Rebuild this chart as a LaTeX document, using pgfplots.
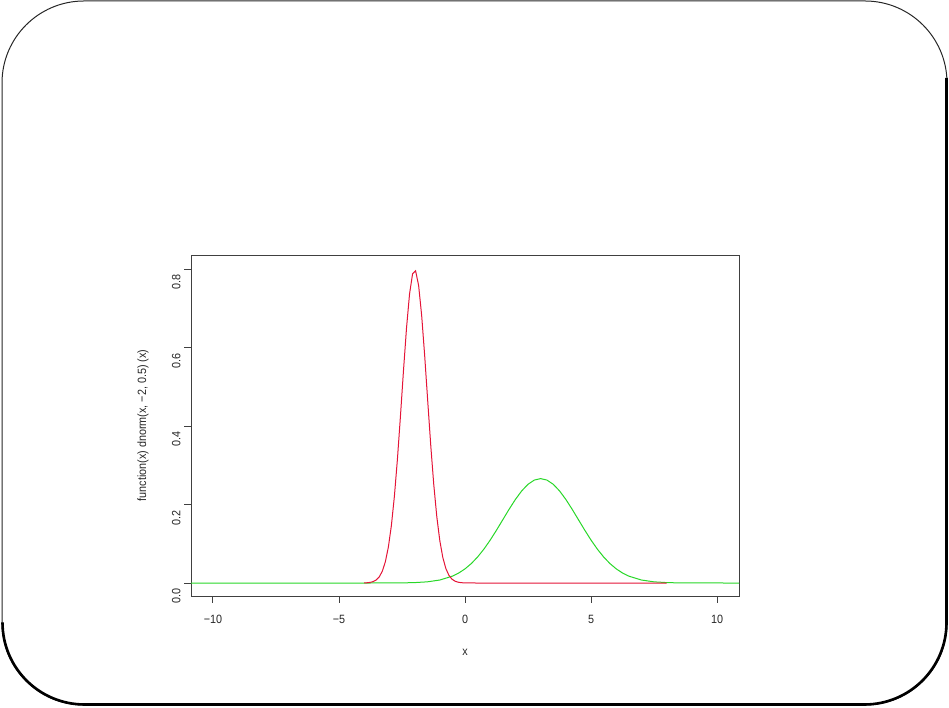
\documentclass[border=0pt]{standalone}
\usepackage{fontspec}
\setmainfont{Liberation Sans}[FakeStretch=0.9]
\usepackage{pgfplots}
\pgfplotsset{compat=1.18}
\definecolor{rgreen}{RGB}{40,215,40}
\definecolor{rred}{RGB}{228,20,55}
\begin{document}
\begin{tikzpicture}
\path[use as bounding box] (0pt,0pt) rectangle (949pt,708pt);
\draw[black!85, line width=1pt, rounded corners=82pt] (2pt,3pt) rectangle (947pt,707pt);
\draw[black, line width=2.6pt, rounded corners=82pt] (2.5pt,84pt) -- (2.5pt,3.5pt) -- (946.5pt,3.5pt) -- (946.5pt,630pt);
\begin{axis}[
  at={(191pt,112pt)}, anchor=south west,
  scale only axis, width=548pt, height=341pt,
  xmin=-10.87, xmax=10.87, ymin=-0.0331, ymax=0.8357,
  xtick={-10,-5,0,5,10},
  xticklabels={−10,−5,0,5,10},
  ytick={0,0.2,0.4,0.6,0.8},
  yticklabels={0.0,0.2,0.4,0.6,0.8},
  tick pos=left, tick align=outside,
  major tick length=7pt,
  axis line style={black!75, line width=0.9pt},
  tick style={black!75, line width=0.9pt},
  every tick label/.append style={font=\fontsize{12}{14}\selectfont, text=black!85},
  xticklabel style={anchor=north, yshift=-9pt},
  yticklabel style={rotate=90, anchor=south, xshift=-13pt},
  xlabel={x}, ylabel={function(x) dnorm(x, −2, 0.5) (x)},
  label style={font=\fontsize{12}{14}\selectfont, text=black!85},
  xlabel style={at={(axis description cs:0.5,-0.164)}, anchor=center},
  ylabel style={at={(axis description cs:-0.0876,0.5)}, anchor=center},
  clip=true,
]
\addplot[rgreen, line width=1pt] coordinates {
(-11,0) (-6,0.0000) (-4,0.0000) (-3.5,0.00003) (-3,0.0000892) (-2.5,0.000320) (-2,0.001028) (-1.5,0.002955) (-1,0.007598) (-0.5,0.017477) (-0.25,0.02544)
(0,0.035994) (0.25,0.04954) (0.5,0.066318) (0.75,0.08634) (1,0.10934) (1.25,0.13467) (1.5,0.16131) (1.75,0.18794) (2,0.21297) (2.25,0.23471) (2.5,0.25159) (2.75,0.26229)
(3,0.265962) (3.25,0.26229) (3.5,0.25159) (3.75,0.23471) (4,0.21297) (4.25,0.18794) (4.5,0.16131) (4.75,0.13467) (5,0.10934) (5.25,0.08634) (5.5,0.066318) (5.75,0.04954)
(6,0.035994) (6.25,0.02544) (6.5,0.017477) (7,0.007598) (7.5,0.002955) (8,0.001028) (8.5,0.000320) (9,0.0000892) (9.5,0.00003) (11,0)
};
\addplot[rred, line width=1pt] coordinates {
(-4,0.000268) (-3.88,0.000679) (-3.76,0.001627) (-3.64,0.003681) (-3.52,0.007856) (-3.40,0.015831) (-3.28,0.03012) (-3.16,0.05409) (-3.04,0.09175) (-2.92,0.14684)
(-2.80,0.22184) (-2.68,0.31646) (-2.56,0.42615) (-2.44,0.54173) (-2.32,0.65012) (-2.20,0.73655) (-2.08,0.78774) (-1.96,0.79533) (-1.84,0.75806) (-1.72,0.68210)
(-1.60,0.57938) (-1.48,0.46458) (-1.36,0.35172) (-1.24,0.25131) (-1.12,0.16956) (-1.00,0.10798) (-0.88,0.06492) (-0.76,0.03685) (-0.64,0.01974) (-0.52,0.00999)
(-0.40,0.004768) (-0.28,0.002149) (-0.16,0.000914) (-0.04,0.000367) (0.08,0.000139) (0.20,0.00005) (0.5,0) (1,0) (2,0) (3,0) (4,0) (5,0) (6,0) (7,0) (8,0)
};
\end{axis}
\end{tikzpicture}
\end{document}
